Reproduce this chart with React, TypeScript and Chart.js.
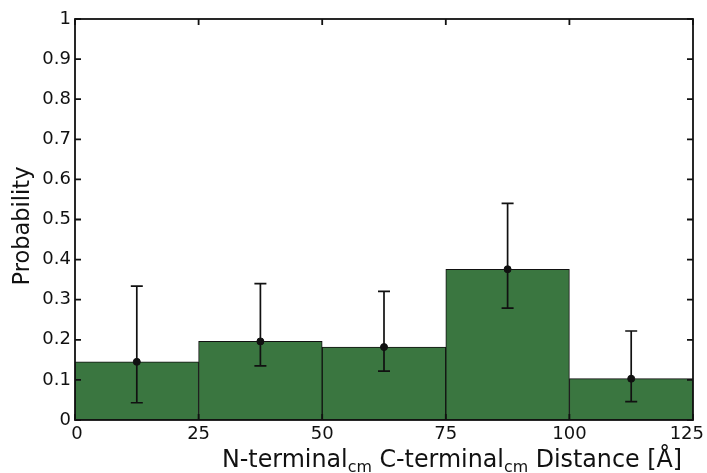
import React, { useEffect, useRef } from "react";
import { Chart, registerables } from "chart.js";

Chart.register(...registerables);

const binEdges = [0, 25, 50, 75, 100, 125];
const binCenters = [12.5, 37.5, 62.5, 87.5, 112.5];
const probabilities = [0.145, 0.196, 0.182, 0.376, 0.103];
const errLower = [0.043, 0.135, 0.122, 0.279, 0.046];
const errUpper = [0.334, 0.34, 0.321, 0.54, 0.222];
const yTicks = [0, 0.1, 0.2, 0.3, 0.4, 0.5, 0.6, 0.7, 0.8, 0.9, 1];
const xTickLabels = ["0", "25", "50", "75", "100", "125"];

const yTitle = "Probability";
const xTitleParts: { text: string; sub: boolean }[] = [
  { text: "N-terminal", sub: false },
  { text: "cm", sub: true },
  { text: " C-terminal", sub: false },
  { text: "cm", sub: true },
  { text: " Distance [Å]", sub: false },
];

const FONT = "'DejaVu Sans', sans-serif";
const GREEN = "#3a7640";
const INK = "#111";

const decorPlugin = {
  id: "decor",
  afterDatasetsDraw(chart: any) {
    const ctx = chart.ctx;
    const x = chart.scales.x;
    const y = chart.scales.y;
    ctx.save();
    ctx.strokeStyle = INK;
    ctx.lineWidth = 1.7;
    for (let i = 0; i < binCenters.length; i++) {
      const px = x.getPixelForValue(binCenters[i]);
      const lo = y.getPixelForValue(errLower[i]);
      const hi = y.getPixelForValue(errUpper[i]);
      ctx.beginPath();
      ctx.moveTo(px, lo);
      ctx.lineTo(px, hi);
      ctx.moveTo(px - 6, lo);
      ctx.lineTo(px + 6, lo);
      ctx.moveTo(px - 6, hi);
      ctx.lineTo(px + 6, hi);
      ctx.stroke();
    }
    ctx.restore();
  },
  afterDraw(chart: any) {
    const ctx = chart.ctx;
    const a = chart.chartArea;
    const x = chart.scales.x;
    const y = chart.scales.y;
    ctx.save();
    ctx.strokeStyle = INK;
    ctx.lineWidth = 1.8;
    ctx.strokeRect(a.left, a.top, a.right - a.left, a.bottom - a.top);
    const tl = 6;
    ctx.beginPath();
    for (const v of binEdges) {
      const px = x.getPixelForValue(v);
      ctx.moveTo(px, a.bottom);
      ctx.lineTo(px, a.bottom - tl);
      ctx.moveTo(px, a.top);
      ctx.lineTo(px, a.top + tl);
    }
    for (const v of yTicks) {
      const py = y.getPixelForValue(v);
      ctx.moveTo(a.left, py);
      ctx.lineTo(a.left + tl, py);
      ctx.moveTo(a.right, py);
      ctx.lineTo(a.right - tl, py);
    }
    ctx.stroke();

    // x tick labels (kept inside the canvas)
    ctx.fillStyle = INK;
    ctx.font = `18px ${FONT}`;
    ctx.textAlign = "center";
    ctx.textBaseline = "top";
    const W = chart.width;
    binEdges.forEach((v, i) => {
      const label = xTickLabels[i];
      const w = ctx.measureText(label).width;
      let px = x.getPixelForValue(v);
      if (px + w / 2 > W - 3) px = W - 3 - w / 2;
      if (i === 0) px += 2;
      ctx.fillText(label, px, a.bottom + 5);
    });

    // y title
    ctx.font = `22.5px ${FONT}`;
    ctx.save();
    ctx.translate(29, 226);
    ctx.rotate(-Math.PI / 2);
    ctx.textAlign = "center";
    ctx.textBaseline = "alphabetic";
    ctx.fillText(yTitle, 0, 0);
    ctx.restore();

    // x title with subscripts
    const mainFont = `24px ${FONT}`;
    const subFont = `16px ${FONT}`;
    let total = 0;
    for (const p of xTitleParts) {
      ctx.font = p.sub ? subFont : mainFont;
      total += ctx.measureText(p.text).width;
    }
    const startX = 222;
    const endX = 682;
    const sx = (endX - startX) / total;
    const base = 467;
    ctx.save();
    ctx.translate(startX, 0);
    ctx.scale(sx, 1);
    let cx = 0;
    ctx.textAlign = "left";
    ctx.textBaseline = "alphabetic";
    for (const p of xTitleParts) {
      ctx.font = p.sub ? subFont : mainFont;
      ctx.fillText(p.text, cx, p.sub ? base + 5 : base);
      cx += ctx.measureText(p.text).width;
    }
    ctx.restore();
    ctx.restore();
  },
};

export default function App() {
  const ref = useRef<HTMLCanvasElement | null>(null);
  useEffect(() => {
    if (!ref.current) return;
    const chart = new Chart(ref.current, {
      type: "bar",
      data: {
        datasets: [
          {
            type: "scatter",
            data: binCenters.map((c, i) => ({ x: c, y: probabilities[i] })),
            backgroundColor: INK,
            borderColor: INK,
            pointRadius: 3.5,
            order: 0,
          } as any,
          {
            type: "bar",
            data: binCenters.map((c, i) => ({ x: c, y: probabilities[i] })),
            backgroundColor: GREEN,
            borderColor: INK,
            borderWidth: 1,
            borderSkipped: false,
            barPercentage: 1,
            categoryPercentage: 1,
            order: 1,
          } as any,
        ],
      },
      options: {
        animation: false,
        responsive: false,
        maintainAspectRatio: false,
        layout: { padding: { left: 0, top: 19, right: 14, bottom: 0 } },
        plugins: {
          legend: { display: false },
          tooltip: { enabled: false },
        },
        scales: {
          x: {
            type: "linear",
            min: 0,
            max: 125,
            offset: false,
            grid: { display: false, drawTicks: false },
            border: { display: false },
            ticks: { display: false, stepSize: 25 },
            afterFit: (s: any) => {
              s.height = 53;
              s.paddingLeft = 0;
              s.paddingRight = 0;
            },
          },
          y: {
            min: 0,
            max: 1,
            grid: { display: false, drawTicks: false },
            border: { display: false },
            ticks: {
              stepSize: 0.1,
              padding: 4,
              color: INK,
              font: { family: FONT, size: 18 },
              callback: (v: any) => {
                const n = Math.round(Number(v) * 10) / 10;
                if (n === 0) return "0";
                if (n === 1) return "1";
                return n.toFixed(1);
              },
            },
            afterFit: (s: any) => {
              s.width = 75;
              s.paddingTop = 0;
              s.paddingBottom = 0;
            },
          },
        },
      },
      plugins: [decorPlugin],
    });
    return () => chart.destroy();
  }, []);
  return (
    <div style={{ position: "fixed", left: 0, top: 0, width: 707, height: 473, background: "#fff" }}>
      <canvas ref={ref} width={707} height={473} style={{ width: 707, height: 473 }} />
    </div>
  );
}
